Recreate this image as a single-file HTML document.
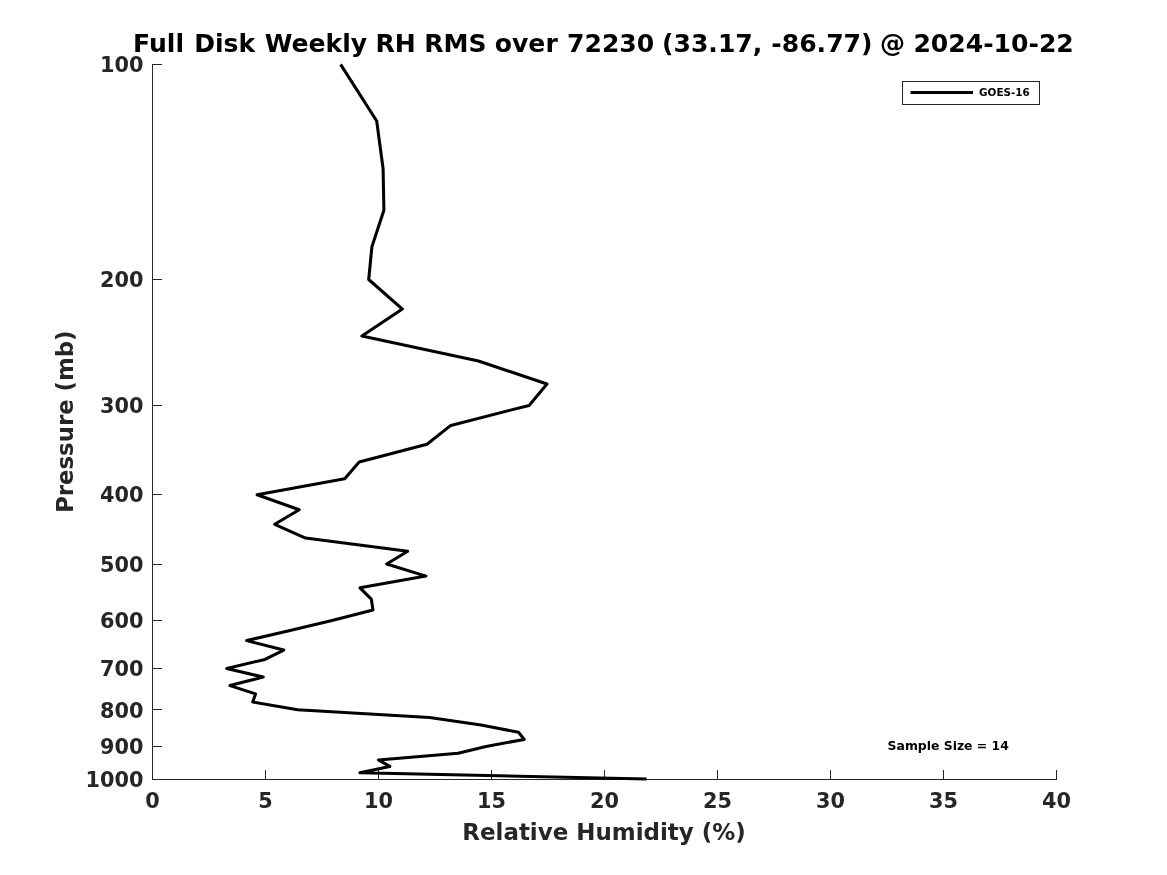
<!DOCTYPE html>
<html><head><meta charset="utf-8"><title>Full Disk Weekly RH RMS</title>
<style>
html,body{margin:0;padding:0;background:#fff;}
body{width:1167px;height:875px;overflow:hidden;}
svg{display:block;}
svg text{font-family:"DejaVu Sans","Liberation Sans",sans-serif;font-weight:bold;}
</style></head><body>
<svg width="1167" height="875" viewBox="0 0 1167 875">
<rect width="1167" height="875" fill="#ffffff"/>
<g stroke="#262626" stroke-width="1" fill="none" shape-rendering="crispEdges">
<path d="M152.5,64.0 V780.0 M152.0,779.5 H1057.0"/>
<path d="M152.5,780.0 V770.0 M265.5,780.0 V770.0 M378.5,780.0 V770.0 M491.5,780.0 V770.0 M604.5,780.0 V770.0 M717.5,780.0 V770.0 M830.5,780.0 V770.0 M943.5,780.0 V770.0 M1056.5,780.0 V770.0 M152.5,64.5 h9 M152.5,279.5 h9 M152.5,405.5 h9 M152.5,494.5 h9 M152.5,564.5 h9 M152.5,620.5 h9 M152.5,668.5 h9 M152.5,709.5 h9 M152.5,746.5 h9 M152.5,779.5 h9 "/>
</g>
<g fill="#262626" font-size="20.8px">
<text x="152.5" y="808" text-anchor="middle">0</text>
<text x="265.5" y="808" text-anchor="middle">5</text>
<text x="378.5" y="808" text-anchor="middle">10</text>
<text x="491.5" y="808" text-anchor="middle">15</text>
<text x="604.5" y="808" text-anchor="middle">20</text>
<text x="717.5" y="808" text-anchor="middle">25</text>
<text x="830.5" y="808" text-anchor="middle">30</text>
<text x="943.5" y="808" text-anchor="middle">35</text>
<text x="1056.5" y="808" text-anchor="middle">40</text>
<text x="143.5" y="71.9" text-anchor="end">100</text>
<text x="143.5" y="287.1" text-anchor="end">200</text>
<text x="143.5" y="413.0" text-anchor="end">300</text>
<text x="143.5" y="502.4" text-anchor="end">400</text>
<text x="143.5" y="571.7" text-anchor="end">500</text>
<text x="143.5" y="628.3" text-anchor="end">600</text>
<text x="143.5" y="676.1" text-anchor="end">700</text>
<text x="143.5" y="717.6" text-anchor="end">800</text>
<text x="143.5" y="754.2" text-anchor="end">900</text>
<text x="143.5" y="786.9" text-anchor="end">1000</text>
</g>
<text y="52" font-size="25.08px" fill="#000"><tspan x="133.1">Full</tspan> <tspan x="194.2">Disk</tspan> <tspan x="264.8">Weekly</tspan> <tspan x="375.4">RH</tspan> <tspan x="424.2">RMS</tspan> <tspan x="494.8">over</tspan> <tspan x="567.0">72230</tspan> <tspan x="662.0">(33.17,</tspan> <tspan x="771.3">-86.77)</tspan> <tspan x="879.9">@</tspan> <tspan x="913.4">2024-10-22</tspan></text>
<text x="604" y="840" text-anchor="middle" font-size="22.95px" fill="#262626">Relative Humidity (%)</text>
<text transform="translate(73.3,421.7) rotate(-90)" text-anchor="middle" font-size="22.8px" fill="#262626">Pressure (mb)</text>
<polyline points="340.6,64.4 376.7,121.0 383.1,168.8 383.9,210.3 371.9,246.8 368.7,279.5 402.4,309.1 361.9,336.1 478.5,361.0 547.0,384.0 529.1,405.4 450.8,425.4 427.0,444.2 359.2,462.0 344.7,478.8 257.1,494.7 299.2,509.8 274.7,524.3 305.5,538.1 407.7,551.3 386.7,564.0 426.0,576.1 360.0,587.8 371.3,599.1 373.0,610.0 332.0,620.5 289.0,630.7 246.7,640.6 283.7,650.1 265.0,659.4 226.7,668.4 263.2,677.1 230.0,685.6 255.5,693.9 252.8,702.0 297.6,709.8 429.5,717.5 481.0,725.0 518.5,732.3 524.2,739.4 486.0,746.4 458.2,753.2 378.4,759.9 389.8,766.4 359.9,772.8 646.6,779.1" fill="none" stroke="#000" stroke-width="3.05" stroke-linejoin="round" stroke-linecap="butt"/>
<rect x="902.5" y="81.5" width="137" height="23" fill="#fff" stroke="#262626" stroke-width="1" shape-rendering="crispEdges"/>
<line x1="910.5" y1="92.5" x2="973" y2="92.5" stroke="#000" stroke-width="3.1"/>
<text x="979" y="96" font-size="10.42px" fill="#000">GOES-16</text>
<text x="887.6" y="750.4" font-size="12.42px" fill="#000">Sample Size = 14</text>
</svg>
</body></html>
